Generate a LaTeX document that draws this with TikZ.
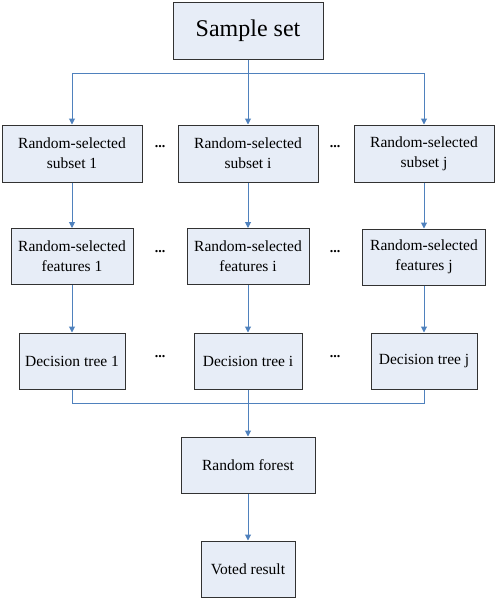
\documentclass[tikz,border=0pt]{standalone}
\usepackage{fontspec}
\setmainfont{Liberation Serif}
\usetikzlibrary{arrows.meta}
\definecolor{boxfill}{RGB}{231,237,247}
\definecolor{boxline}{RGB}{50,50,50}
\definecolor{conn}{RGB}{79,129,189}
\tikzset{
  box/.style={draw=boxline, fill=boxfill, line width=1pt, align=center, inner sep=0pt,
    font=\fontsize{15.5}{20}\selectfont},
  link/.style={draw=conn, line width=1pt},
  arrowlink/.style={link, -{Triangle[length=6pt,width=6pt]}},
  dots/.style={font=\bfseries\fontsize{14}{18}\selectfont, anchor=base, inner sep=0pt}
}
\begin{document}
\begin{tikzpicture}[x=1pt,y=-1pt]
\useasboundingbox (0,0) rectangle (496,600);
\node[box, minimum width=150pt, minimum height=57pt, font=\fontsize{24}{28}\selectfont] (ss) at (248,30.5) {Sample set};

\node[box, minimum width=140pt, minimum height=57pt] (s1) at (72,153.5) {Random-selected\\subset 1};
\node[box, minimum width=140pt, minimum height=57pt] (si) at (248,153.5) {Random-selected\\subset i};
\node[box, minimum width=140pt, minimum height=57pt] (sj) at (424,153.5) {Random-selected\\subset j};

\node[box, minimum width=122pt, minimum height=56pt] (f1) at (72,256.5) {Random-selected\\features 1};
\node[box, minimum width=122pt, minimum height=56pt] (fi) at (248,256.5) {Random-selected\\features i};
\node[box, minimum width=123pt, minimum height=56pt] (fj) at (424,257) {Random-selected\\features j};

\node[box, minimum width=106pt, minimum height=56pt] (t1) at (72,361) {Decision tree 1};
\node[box, minimum width=108pt, minimum height=56pt] (ti) at (248,361) {Decision tree i};
\node[box, minimum width=106pt, minimum height=56pt] (tj) at (424,361) {Decision tree j};

\node[box, minimum width=134pt, minimum height=56pt] (rf) at (248,465) {Random forest};
\node[box, minimum width=94pt, minimum height=56pt] (vr) at (248,569) {Voted result};

\node[dots] (d1) at (160,147) {...};
\node[dots] (d2) at (335,147) {...};
\node[dots] (d3) at (160,252) {...};
\node[dots] (d4) at (335,252) {...};
\node[dots] (d5) at (160,357) {...};
\node[dots] (d6) at (335,357) {...};

\coordinate (b1) at (248,73);
\draw[link] (ss.south) -- (b1);
\draw[arrowlink] (b1) -| (s1.north);
\draw[arrowlink] (b1) -- (si.north);
\draw[arrowlink] (b1) -| (sj.north);

\draw[arrowlink] (s1) -- (f1);
\draw[arrowlink] (si) -- (fi);
\draw[arrowlink] (sj) -- (fj);

\draw[arrowlink] (f1) -- (t1);
\draw[arrowlink] (fi) -- (ti);
\draw[arrowlink] (fj) -- (tj);

\coordinate (b2) at (248,403);
\draw[link] (t1.south) |- (b2);
\draw[link] (tj.south) |- (b2);
\draw[arrowlink] (ti) -- (rf);
\draw[arrowlink] (rf) -- (vr);
\end{tikzpicture}
\end{document}
